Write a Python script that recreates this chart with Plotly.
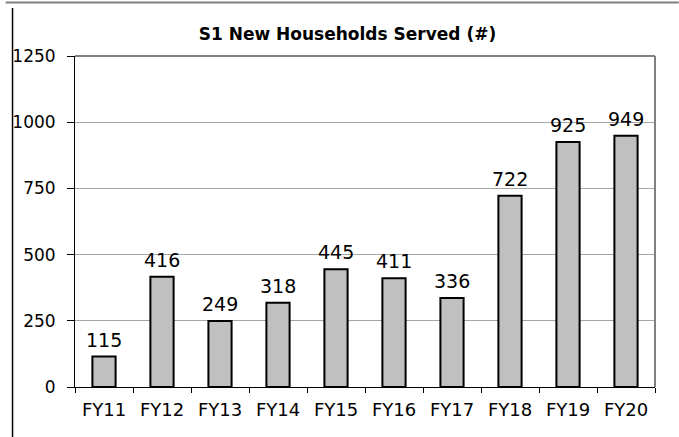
import plotly.graph_objects as go

categories = ["FY11", "FY12", "FY13", "FY14", "FY15", "FY16", "FY17", "FY18", "FY19", "FY20"]
households = [115, 416, 249, 318, 445, 411, 336, 722, 925, 949]
y_ticks = [0, 250, 500, 750, 1000, 1250]
title_text = "<b>S1 New Households Served (#)</b>"

W, H = 679, 437
L, R, T, B = 70, 24, 56, 50

fig = go.Figure()
fig.add_trace(go.Bar(
    x=categories, y=households,
    marker=dict(color="#c0c0c0", line=dict(color="#000000", width=2)),
    width=0.4,
    hoverinfo="skip",
))

# value labels from the data
for c, v in zip(categories, households):
    fig.add_annotation(x=c, y=v, text=str(v), showarrow=False,
                       yanchor="bottom", xanchor="center", yshift=4,
                       font=dict(family="DejaVu Sans", size=19, color="#000000"))

fig.update_layout(
    width=W, height=H,
    margin=dict(l=L, r=R, t=T, b=B, pad=0),
    paper_bgcolor="white", plot_bgcolor="white",
    showlegend=False,
    title=dict(text=title_text, x=319 / W, xanchor="center", xref="paper",
               y=1 - 33.7 / H, yanchor="middle", yref="container",
               font=dict(family="DejaVu Sans", size=17, color="#000000")),
    font=dict(family="DejaVu Sans", color="#000000"),
)

fig.update_xaxes(
    type="category", tickson="boundaries", ticks="outside", ticklen=5,
    tickcolor="#000000", tickwidth=1,
    showline=True, linecolor="#000000", linewidth=1,
    showgrid=False, tickfont=dict(size=18, color="#000000"),
    ticklabelstandoff=6,
)
fig.update_yaxes(
    range=[0, 1250], tickvals=y_ticks, ticktext=[str(v) for v in y_ticks],
    ticks="outside", ticklen=7, tickcolor="#000000", tickwidth=1,
    showline=True, linecolor="#000000", linewidth=1,
    showgrid=True, gridcolor="#a6a6a6", gridwidth=1,
    zeroline=False, tickfont=dict(size=17, color="#000000"),
    ticklabelstandoff=8,
)

# plot-area border (top and right), gray
fig.add_shape(type="line", xref="x domain", yref="y domain", x0=0, x1=1, y0=1, y1=1,
              line=dict(color="#808080", width=2))
fig.add_shape(type="line", xref="x domain", yref="y domain", x0=1, x1=1, y0=0, y1=1,
              line=dict(color="#808080", width=2))
# outer frame fragments
fig.add_shape(type="line", xref="paper", yref="paper",
              x0=-L / (W - L - R), x1=(W - L) / (W - L - R),
              y0=1 + (T - 2.5) / (H - T - B), y1=1 + (T - 2.5) / (H - T - B),
              line=dict(color="#808080", width=2))
fig.add_shape(type="line", xref="paper", yref="paper",
              x0=-(L - 7) / (W - L - R), x1=-(L - 7) / (W - L - R),
              y0=-B / (H - T - B), y1=1 + (T - 8) / (H - T - B),
              line=dict(color="#000000", width=1.5))

fig.write_html("out.html", config={"displayModeBar": False},
               post_script="document.body.style.margin='0';document.body.style.padding='0';")
